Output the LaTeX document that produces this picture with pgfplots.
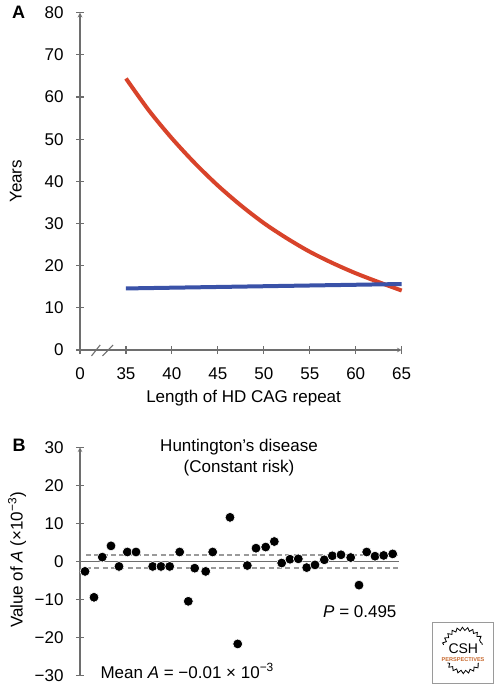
\documentclass[border=0pt]{standalone}
\usepackage{fontspec}
\setmainfont{Liberation Sans}
\usepackage{pgfplots}
\pgfplotsset{compat=1.18}
\usetikzlibrary{decorations.pathmorphing}
\definecolor{redc}{HTML}{D8432A}
\definecolor{bluec}{HTML}{3A52A8}
\definecolor{axisgray}{HTML}{6E6E6E}
\definecolor{dashgray}{HTML}{9A9A9A}
\definecolor{cshorange}{HTML}{C8692E}
\begin{document}
\begin{tikzpicture}[x=1pt,y=1pt]
\path[use as bounding box] (0,0) rectangle (495,-685);
\pgfplotsset{
  myaxis/.style={
    scale only axis,
    font=\fontsize{17}{20}\selectfont,
    /pgf/number format/assume math mode=true,
    ticklabel style={font=\fontsize{17}{20}\selectfont},
    axis line style={draw=axisgray, line width=1.1pt, -},
    tick style={draw=axisgray, line width=1.1pt},
    tick align=outside,
    major tick length=8pt,
    yticklabel shift=9pt,
    xticklabel shift=10pt,
    clip=false,
  }
}
% ---------------- Panel A ----------------
\begin{axis}[myaxis,
  at={(80pt,-350pt)}, anchor=south west,
  width=321.7pt, height=337.3pt,
  xmin=30, xmax=65, ymin=0, ymax=80,
  axis x line=bottom, axis y line=left,
  xtick={30,35,40,45,50,55,60,65},
  xticklabels={0,35,40,45,50,55,60,65},
  ytick={0,10,20,30,40,50,60,70,80},
  xlabel={Length of HD CAG repeat},
  ylabel={Years},
  xlabel style={at={(axis description cs:0.5085,-0.1432)}, anchor=center},
  ylabel style={at={(axis description cs:-0.199,0.5)}, anchor=center},
]
\addplot[redc, line width=4pt, smooth] coordinates {
  (35,64.4) (37.5,56.8) (40,50.2) (42.5,44.3) (45,39.0) (47.5,34.3) (50,30.1)
  (52.5,26.5) (55,23.3) (57.5,20.6) (60,18.2) (62.5,16.1) (65,14.1)
};
\addplot[bluec, line width=4pt] coordinates {(35,14.6) (65,15.65)};
\draw[axisgray, line width=1.1pt] (axis cs:31.25,-1.4) -- (axis cs:32.2,1.2);
\draw[axisgray, line width=1.1pt] (axis cs:32.45,-1.4) -- (axis cs:33.6,1.2);
\end{axis}
\node[font=\fontsize{18}{20}\selectfont\bfseries] at (18.5,-12.7) {A};
% ---------------- Panel B ----------------
\begin{axis}[myaxis,
  at={(80pt,-675.7pt)}, anchor=south west,
  width=319pt, height=228.4pt,
  xmin=0, xmax=319, ymin=-30, ymax=30,
  axis x line=none, axis y line=left,
  ytick={-30,-20,-10,0,10,20,30},
  yticklabels={−30,−20,−10,0,10,20,30},
  ylabel={Value of \textit{A} (×10\textsuperscript{−3})},
  ylabel style={at={(axis description cs:-0.1975,0.507)}, anchor=center},
]
\addplot[axisgray, line width=1.2pt] coordinates {(0,0) (319,0)};
\addplot[dashgray, line width=1.5pt, dash pattern=on 5pt off 3.3pt] coordinates {(6,1.7) (319,1.7)};
\addplot[dashgray, line width=1.5pt, dash pattern=on 5pt off 3.3pt] coordinates {(6,-1.7) (319,-1.7)};
\addplot[only marks, mark=*, mark size=4.9pt, mark options={draw=white, line width=0.6pt, fill=black}] coordinates {
  (5,-2.6) (14,-9.4) (22.3,1.15) (31,4.1) (39,-1.3) (47.3,2.5) (56,2.5)
  (72.7,-1.3) (81,-1.3) (89.7,-1.3) (99.7,2.5) (108.3,-10.45) (114.7,-1.75)
  (125.7,-2.6) (132.7,2.5) (150,11.6) (157.7,-21.65) (167.3,-1.05) (176,3.5)
  (185.7,3.8) (194.3,5.25) (201.7,-0.4) (210,0.6) (218.3,0.7) (226.7,-1.6)
  (235,-0.9) (244.3,0.45) (252.3,1.5) (261,1.76) (270.7,1.05) (279,-6.2)
  (286.7,2.5) (295,1.4) (303.7,1.6) (312.7,2.0)
};
\end{axis}
\node[font=\fontsize{18}{20}\selectfont\bfseries] at (19,-445) {B};
\node[font=\fontsize{17}{20}\selectfont] at (239,-447) {Huntington’s disease};
\node[font=\fontsize{17}{20}\selectfont] at (239,-468) {(Constant risk)};
\node[font=\fontsize{17}{20}\selectfont, anchor=east] at (400,-611.7) {\textit{P} = 0.495};
\node[font=\fontsize{17}{20}\selectfont, anchor=west] at (97,-671) {Mean \textit{A} = −0.01 × 10\textsuperscript{−3}};
% ---------------- CSH logo ----------------
\draw[dashgray, line width=0.9pt] (432.5,-622.5) rectangle (493,-683);
\draw[black, line width=0.8pt, decorate, decoration={snake, segment length=5pt, amplitude=1.6pt}]
  (463,-650) ++(165:20) arc[start angle=165, end angle=15, radius=20];
\draw[black, line width=0.8pt, decorate, decoration={snake, segment length=5pt, amplitude=1.6pt}]
  (463,-652) ++(215:19) arc[start angle=215, end angle=325, radius=19];
\node[font=\fontsize{14}{14}\selectfont, inner sep=0pt] at (463.3,-648.3) {CSH};
\node[font=\fontsize{5.6}{6}\selectfont\bfseries, text=cshorange, inner sep=0pt] at (463,-660) {PERSPECTIVES};
\end{tikzpicture}
\end{document}
